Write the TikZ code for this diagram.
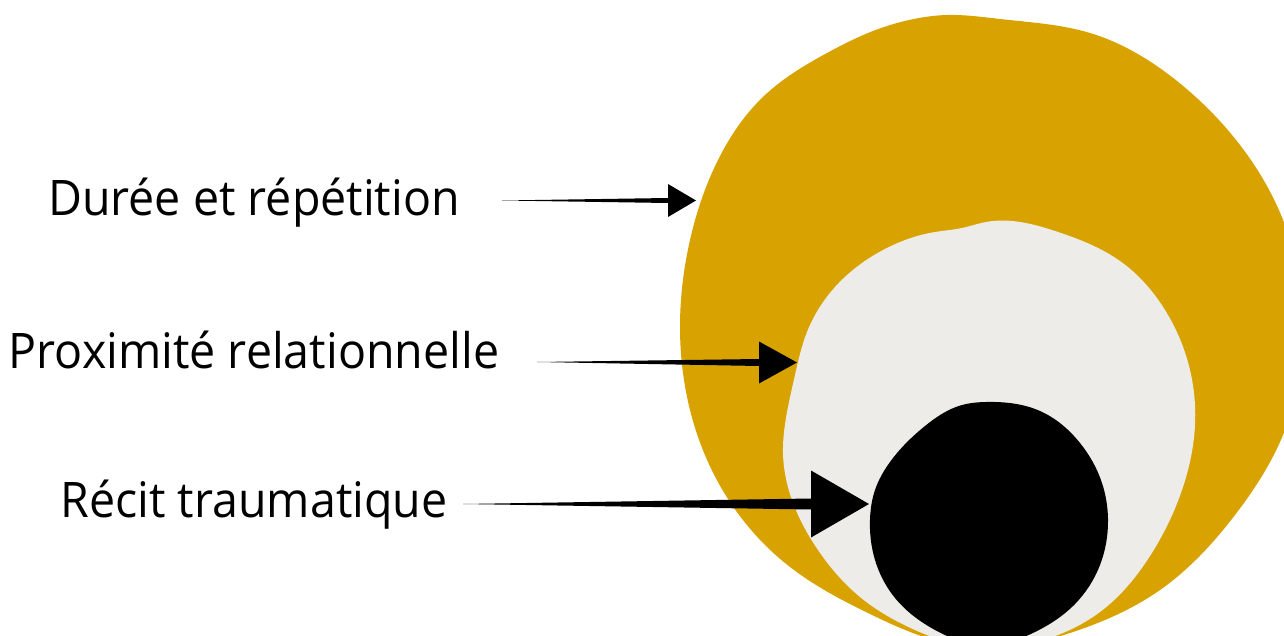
\documentclass[tikz,border=0pt]{standalone}
\usepackage{fontspec}
\setmainfont{Open Sans}[FakeStretch=0.95]
\usetikzlibrary{calc,hobby}
\definecolor{gold}{HTML}{D8A300}
\definecolor{paper}{HTML}{EDECE8}
\begin{document}
\begin{tikzpicture}[x=1pt,y=1pt,
  lbl/.style={font={\fontsize{49}{56}\selectfont}, inner sep=0pt, anchor=base},
  blob/.style={use Hobby shortcut, closed=true},
  taper/.style={fill=black}]
\useasboundingbox (0,0) rectangle (1284,-636);
\begin{scope}
\clip (0,0) rectangle (1284,-636);
\fill[gold, blob] (947,-15) .. (1000,-19) .. (1090,-33) .. (1177,-81) .. (1240,-145) .. (1285,-225) .. (1303,-330) .. (1285,-430) .. (1235,-515) .. (1160,-590) .. (1070,-633) .. (975,-648) .. (870,-614) .. (790,-567) .. (728,-499) .. (690,-410) .. (680,-325) .. (690,-240) .. (717,-162) .. (765,-95) .. (827,-53) .. (873,-31) .. (919,-18);
\fill[paper, blob] (986,-222) .. (1058,-232) .. (1120,-261) .. (1165,-310) .. (1190,-370) .. (1195,-425) .. (1182,-490) .. (1150,-556) .. (1100,-612) .. (1040,-641) .. (980,-648) .. (915,-630) .. (860,-597) .. (818,-550) .. (792,-500) .. (783,-454) .. (786,-418) .. (795,-375) .. (807,-332) .. (835,-287) .. (883,-250) .. (935,-232) .. (962,-228);
\fill[black, blob] (986,-402) .. (1040,-411) .. (1080,-443) .. (1102,-483) .. (1108,-519) .. (1100,-565) .. (1075,-604) .. (1035,-632) .. (985,-645) .. (935,-630) .. (895,-598) .. (875,-560) .. (870,-519) .. (875,-490) .. (890,-462) .. (925,-426) .. (962,-405);
\end{scope}
\node[lbl] (t1) at (254,-216) {Durée et répétition};
\node[lbl] (t2) at (254,-368) {Proximité relationnelle};
\node[lbl] (t3) at (254,-517) {Récit traumatique};
% arrow 1
\coordinate (a1s) at (502,-200.5);
\coordinate (a1b) at (668,-200.5);
\coordinate (a1t) at (696,-200.5);
\fill[taper] (a1s) -- ($(a1b)+(0,2.5)$) -- ($(a1b)+(0,16.5)$) -- (a1t) -- ($(a1b)+(0,-16.5)$) -- ($(a1b)+(0,-2.5)$) -- cycle;
% arrow 2
\coordinate (a2s) at (537,-362);
\coordinate (a2b) at (759,-362.5);
\coordinate (a2t) at (797,-362.5);
\fill[taper] (a2s) -- ($(a2b)+(0,3.5)$) -- ($(a2b)+(0,21)$) -- (a2t) -- ($(a2b)+(0,-21)$) -- ($(a2b)+(0,-3.5)$) -- cycle;
% arrow 3
\coordinate (a3s) at (463,-504);
\coordinate (a3b) at (811,-504);
\coordinate (a3t) at (869,-504);
\fill[taper] (a3s) -- ($(a3b)+(0,5.5)$) -- ($(a3b)+(0,33.5)$) -- (a3t) -- ($(a3b)+(0,-33.5)$) -- ($(a3b)+(0,-5.5)$) -- cycle;
\end{tikzpicture}
\end{document}
